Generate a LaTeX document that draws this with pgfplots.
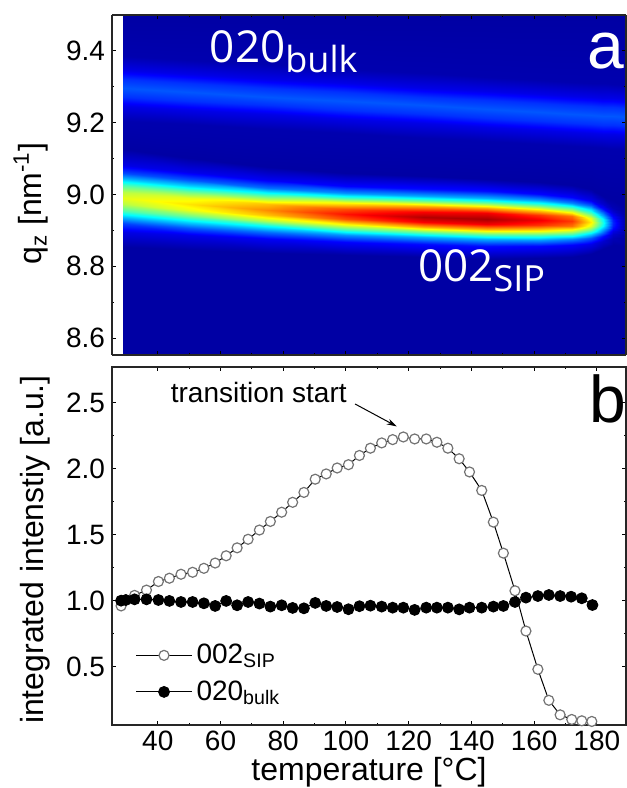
\documentclass[border=0pt]{standalone}
\usepackage{fontspec}
\setmainfont{Liberation Sans}
\newfontfamily\osans{Open Sans}
\usepackage{pgfplots}
\pgfplotsset{compat=1.18}
\usetikzlibrary{arrows.meta}

\pgfplotsset{
  panel/.style={scale only axis, width=257pt, xmin=25.4, xmax=189.3,
    xtick={40,60,...,180}, minor x tick num=1,
    tick align=inside, major tick length=2pt, minor tick length=1.2pt,
    tick style={black, line width=0.5pt},
    axis line style={black!85, line width=0.6pt},
    tick label style={font=\fontsize{14}{16}\selectfont},
    xticklabel style={inner sep=1pt, yshift=-2pt},
    /pgf/number format/assume math mode=true,
    yticklabel style={/pgf/number format/.cd, fixed, fixed zerofill, precision=1}},
}

\begin{document}
\begin{tikzpicture}
\path[use as bounding box] (-56pt,7.5pt) rectangle (257.5pt,-386.5pt);

% (a) map
\begin{axis}[panel, name=top, at={(0pt,0pt)}, anchor=north west, height=170pt,
  view={0}{90}, ymin=8.553, ymax=9.5, zmin=0, zmax=1, ztick=\empty,
  ytick={8.6,8.8,9.0,9.2,9.4}, minor y tick num=1, xticklabels={},
  ylabel={q\textsubscript{z} [nm\textsuperscript{-1}]},
  every axis y label/.style={at={(axis description cs:-0.158,0.445)}, anchor=center, rotate=90,
    font=\fontsize{16}{19}\selectfont},
  colormap/jet, point meta min=0, point meta max=1, axis on top]
\addplot3[surf, shader=interp] table[x=T, y=q, z=v] {
T q v
28.9 8.553 0.035
28.9 8.8525 0.035
28.9 8.8965 0.099
28.9 8.9196 0.196
28.9 8.9372 0.313
28.9 8.9548 0.447
28.9 8.9724 0.557
28.9 8.990 0.600
28.9 9.0076 0.557
28.9 9.0252 0.447
28.9 9.0428 0.313
28.9 9.0604 0.196
28.9 9.0835 0.099
28.9 9.1275 0.035
28.9 9.206 0.046
28.9 9.246 0.101
28.9 9.271 0.172
28.9 9.296 0.210
28.9 9.321 0.172
28.9 9.346 0.101
28.9 9.386 0.046
28.9 9.5 0.035

50 8.553 0.035
50 8.8452 0.035
50 8.8864 0.104
50 8.9081 0.210
50 8.9246 0.337
50 8.941 0.483
50 8.9575 0.603
50 8.974 0.650
50 8.9905 0.603
50 9.007 0.483
50 9.0234 0.337
50 9.0399 0.210
50 9.0616 0.104
50 9.1028 0.035
50 9.1955 0.046
50 9.2355 0.101
50 9.2605 0.172
50 9.2855 0.210
50 9.3105 0.172
50 9.3355 0.101
50 9.3755 0.046
50 9.5 0.035

75 8.553 0.035
75 8.838 0.035
75 8.8764 0.114
75 8.8966 0.235
75 8.9119 0.381
75 8.9273 0.548
75 8.9426 0.686
75 8.958 0.740
75 8.9734 0.686
75 8.9887 0.548
75 9.0041 0.381
75 9.0194 0.235
75 9.0396 0.114
75 9.078 0.035
75 9.183 0.046
75 9.223 0.101
75 9.248 0.172
75 9.273 0.210
75 9.298 0.172
75 9.323 0.101
75 9.363 0.046
75 9.5 0.035

100 8.553 0.035
100 8.8322 0.035
100 8.8686 0.126
100 8.8878 0.268
100 8.9023 0.439
100 8.9169 0.635
100 8.9314 0.797
100 8.946 0.860
100 8.9606 0.797
100 8.9751 0.635
100 8.9897 0.439
100 9.0042 0.268
100 9.0234 0.126
100 9.0598 0.035
100 9.1705 0.046
100 9.2105 0.101
100 9.2355 0.172
100 9.2605 0.210
100 9.2855 0.172
100 9.3105 0.101
100 9.3505 0.046
100 9.5 0.035

125 8.553 0.035
125 8.8255 0.035
125 8.8615 0.136
125 8.8804 0.293
125 8.8948 0.483
125 8.9092 0.701
125 8.9236 0.880
125 8.938 0.950
125 8.9524 0.880
125 8.9668 0.701
125 8.9812 0.483
125 8.9956 0.293
125 9.0145 0.136
125 9.0505 0.035
125 9.158 0.046
125 9.198 0.101
125 9.223 0.172
125 9.248 0.210
125 9.273 0.172
125 9.298 0.101
125 9.338 0.046
125 9.5 0.035

145 8.553 0.035
145 8.8217 0.035
145 8.8573 0.137
145 8.876 0.296
145 8.8903 0.488
145 8.9045 0.708
145 8.9188 0.889
145 8.933 0.960
145 8.9472 0.889
145 8.9615 0.708
145 8.9757 0.488
145 8.990 0.296
145 9.0087 0.137
145 9.0443 0.035
145 9.148 0.046
145 9.188 0.101
145 9.213 0.172
145 9.238 0.210
145 9.263 0.172
145 9.288 0.101
145 9.328 0.046
145 9.5 0.035

162 8.553 0.035
162 8.8227 0.035
162 8.8567 0.129
162 8.8746 0.276
162 8.8882 0.454
162 8.9018 0.657
162 8.9154 0.825
162 8.929 0.890
162 8.9426 0.825
162 8.9562 0.657
162 8.9698 0.454
162 8.9834 0.276
162 9.0013 0.129
162 9.0353 0.035
162 9.1395 0.046
162 9.1795 0.101
162 9.2045 0.172
162 9.2295 0.210
162 9.2545 0.172
162 9.2795 0.101
162 9.3195 0.046
162 9.5 0.035

172 8.553 0.035
172 8.826 0.035
172 8.858 0.122
172 8.8748 0.257
172 8.8876 0.420
172 8.9004 0.606
172 8.9132 0.760
172 8.926 0.820
172 8.9388 0.760
172 8.9516 0.606
172 8.9644 0.420
172 8.9772 0.257
172 8.994 0.122
172 9.026 0.035
172 9.1345 0.046
172 9.1745 0.101
172 9.1995 0.172
172 9.2245 0.210
172 9.2495 0.172
172 9.2745 0.101
172 9.3145 0.046
172 9.5 0.035

178 8.553 0.035
178 8.834 0.035
178 8.8628 0.103
178 8.8779 0.207
178 8.8894 0.332
178 8.901 0.476
178 8.9125 0.594
178 8.924 0.640
178 8.9355 0.594
178 8.947 0.476
178 8.9586 0.332
178 8.9701 0.207
178 8.9852 0.103
178 9.014 0.035
178 9.1315 0.046
178 9.1715 0.101
178 9.1965 0.172
178 9.2215 0.210
178 9.2465 0.172
178 9.2715 0.101
178 9.3115 0.046
178 9.5 0.035

182 8.553 0.035
182 8.847 0.035
182 8.871 0.078
182 8.8836 0.140
182 8.8932 0.215
182 8.9028 0.301
182 8.9124 0.372
182 8.922 0.400
182 8.9316 0.372
182 8.9412 0.301
182 8.9508 0.215
182 8.9604 0.140
182 8.973 0.078
182 8.997 0.035
182 9.1295 0.046
182 9.1695 0.101
182 9.1945 0.172
182 9.2195 0.210
182 9.2445 0.172
182 9.2695 0.101
182 9.3095 0.046
182 9.5 0.035

185 8.553 0.035
185 8.8585 0.035
185 8.8785 0.053
185 8.889 0.073
185 8.897 0.098
185 8.905 0.127
185 8.913 0.151
185 8.921 0.160
185 8.929 0.151
185 8.937 0.127
185 8.945 0.098
185 8.953 0.073
185 8.9635 0.053
185 8.9835 0.035
185 9.128 0.046
185 9.168 0.101
185 9.193 0.172
185 9.218 0.210
185 9.243 0.172
185 9.268 0.101
185 9.308 0.046
185 9.5 0.035

189.3 8.553 0.035
189.3 8.8575 0.035
189.3 8.8775 0.035
189.3 8.888 0.035
189.3 8.896 0.035
189.3 8.904 0.035
189.3 8.912 0.035
189.3 8.920 0.035
189.3 8.928 0.035
189.3 8.936 0.035
189.3 8.944 0.035
189.3 8.952 0.035
189.3 8.9625 0.035
189.3 8.9825 0.035
189.3 9.126 0.046
189.3 9.166 0.101
189.3 9.191 0.172
189.3 9.216 0.210
189.3 9.241 0.172
189.3 9.266 0.101
189.3 9.306 0.046
189.3 9.5 0.035
};
\node[anchor=base west, text=white, inner sep=0pt, font=\osans\fontsize{22}{26}\selectfont]
  at (axis cs:56.5,9.369,1) {020\raisebox{-5pt}{\fontsize{18}{20}\selectfont bulk}};
\node[anchor=base west, text=white, inner sep=0pt, font=\osans\fontsize{22}{26}\selectfont]
  at (axis cs:122.9,8.759,1) {002\raisebox{-5pt}{\fontsize{18}{20}\selectfont SIP}};
\node[anchor=base, text=white, inner sep=0pt, font=\fontsize{33}{38}\selectfont]
  at (axis cs:182.8,9.352,1) {a};
\end{axis}

% (b) integrated intensities
\begin{axis}[panel, at={(0pt,-176pt)}, anchor=north west, height=179pt,
  ymin=0.058, ymax=2.77, ytick={0.5,1.0,1.5,2.0,2.5}, minor y tick num=1,
  xlabel={temperature [°C]}, ylabel={integrated intenstiy [a.u.]},
  every axis x label/.style={at={(axis description cs:0.5,-0.155)}, anchor=base, inner sep=0.5pt,
    font=\fontsize{16}{19}\selectfont},
  every axis y label/.style={at={(axis description cs:-0.150,0.49)}, anchor=center, rotate=90,
    font=\fontsize{16}{19}\selectfont},
  legend style={at={(axis description cs:0.045,0.1435)}, anchor=west, draw=none, fill=none,
    inner sep=0pt, row sep=3pt, font=\fontsize{14}{16}\selectfont},
  legend cell align=left,
  legend image code/.code={\draw[mark repeat=2,mark phase=2] plot coordinates {(0pt,0pt) (14pt,0pt) (28pt,0pt)};}]
\addplot[black, line width=0.5pt, mark=*, mark size=2.5pt,
  mark options={draw=black!55, fill=white, line width=0.6pt}] coordinates {
(28.3,0.96) (32.6,1.04) (36.4,1.08) (40.2,1.145) (43.7,1.17) (47.4,1.20)
(51.1,1.215) (54.7,1.245) (58.3,1.285) (61.8,1.34) (65.3,1.40) (68.8,1.465)
(72.4,1.535) (75.9,1.60) (79.5,1.67) (83.0,1.745) (86.6,1.82) (90.2,1.92)
(93.7,1.96) (97.2,2.005) (100.8,2.03) (104.3,2.10) (107.8,2.155) (111.4,2.195)
(114.9,2.22) (118.3,2.24) (121.9,2.225) (125.6,2.225) (129.0,2.20) (132.5,2.155)
(136.1,2.075) (139.4,1.975) (143.3,1.835) (147.0,1.595) (150.2,1.36) (153.9,1.075)
(157.4,0.77) (161.2,0.48) (164.7,0.245) (168.3,0.135) (172.0,0.10) (175.2,0.09)
(178.4,0.085)};
\addlegendentry{002\textsubscript{SIP}}
\addplot[black, line width=0.5pt, mark=*, mark size=2.7pt, mark options={fill=black}] coordinates {
(28.3,1.00) (29.8,1.005) (32.6,1.01) (36.4,1.01) (40.2,1.005) (43.7,0.998)
(47.4,0.99) (51.1,0.99) (54.7,0.98) (58.3,0.96) (61.8,0.998) (65.3,0.965)
(68.8,0.99) (72.4,0.978) (75.9,0.955) (79.5,0.965) (83.0,0.945) (86.6,0.942)
(90.2,0.983) (93.7,0.96) (97.2,0.952) (100.8,0.935) (104.3,0.958) (107.8,0.962)
(111.4,0.955) (114.9,0.947) (118.3,0.947) (121.9,0.93) (125.6,0.947) (129.0,0.947)
(132.5,0.947) (136.1,0.934) (139.4,0.947) (143.3,0.947) (147.0,0.955) (150.2,0.96)
(153.9,0.99) (157.4,1.023) (161.2,1.035) (164.7,1.043) (168.3,1.035) (171.8,1.03)
(175.2,1.018) (178.6,0.967)};
\addlegendentry{020\textsubscript{bulk}}
\node[font=\fontsize{14}{16}\selectfont] at (axis cs:72.2,2.58) {transition start};
\draw[-{Stealth[length=5pt,width=3pt]}, line width=0.5pt] (axis cs:102.9,2.49) -- (axis cs:116.2,2.32);
\node[anchor=base, inner sep=0pt, font=\fontsize{33}{38}\selectfont] at (axis cs:183.5,2.35) {b};
\end{axis}
\end{tikzpicture}
\end{document}
